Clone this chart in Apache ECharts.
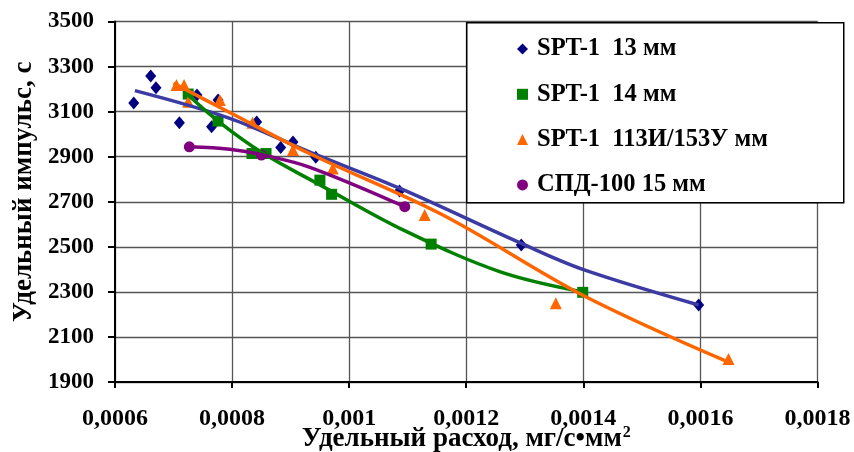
<!DOCTYPE html>
<html><head><meta charset="utf-8">
<script src="https://cdn.jsdelivr.net/npm/echarts@6/dist/echarts.min.js"></script>
<style>html,body{margin:0;padding:0;background:#fff}#c{width:854px;height:452px}</style>
</head><body><div id="c"></div>
<script>
// Tick labels
const xTicks = [0.0006, 0.0008, 0.001, 0.0012, 0.0014, 0.0016, 0.0018];
const yTicks = [1900, 2100, 2300, 2500, 2700, 2900, 3100, 3300, 3500];

// Series names
const names = ['SPT-1  13 мм', 'SPT-1  14 мм', 'SPT-1  113И/153У мм', 'СПД-100 15 мм'];

// Series 1: SPT-1 13 мм (points)
const s1x = [0.000632, 0.000661, 0.000670, 0.000710, 0.000740, 0.000765, 0.000776, 0.000842, 0.000883, 0.000904, 0.000943, 0.001086, 0.001294, 0.001597];
const s1y = [3138, 3258, 3206, 3051, 3174, 3033, 3152, 3054, 2941, 2965, 2897, 2748, 2508, 2242];
// Series 2: SPT-1 14 мм
const s2x = [0.000725, 0.000776, 0.000834, 0.000858, 0.000950, 0.000970, 0.001140, 0.001399];
const s2y = [3178, 3058, 2914, 2914, 2796, 2733, 2512, 2298];
// Series 3: SPT-1 113И/153У мм
const s3x = [0.000705, 0.000718, 0.000725, 0.000779, 0.000835, 0.000904, 0.000972, 0.001129, 0.001353, 0.001648];
const s3y = [3218, 3218, 3144, 3152, 3051, 2930, 2848, 2641, 2249, 2002];
// Series 4: СПД-100 15 мм
const s4x = [0.000727, 0.000850, 0.001095];
const s4y = [2944, 2907, 2678];

// Trend lines
const t1x = [0.000634, 0.000796, 0.000933, 0.001086, 0.001294, 0.001399, 0.001597];
const t1y = [3193, 3070, 2920, 2760, 2515, 2400, 2242];
const t2x = [0.000719, 0.000776, 0.000853, 0.000950, 0.001092, 0.001257, 0.001399];
const t2y = [3188, 3058, 2915, 2775, 2575, 2390, 2300];
const t3x = [0.000700, 0.000796, 0.000933, 0.001160, 0.001399, 0.001646];
const t3y = [3226, 3096, 2913, 2641, 2285, 1990];
const t4x = [0.000727, 0.000796, 0.000852, 0.000933, 0.001095];
const t4y = [2944, 2933, 2908, 2853, 2678];

const colors = ['#000080', '#008000', '#FF6600', '#800080'];
const lineColors = ['#3b3ba3', '#008000', '#FF6600', '#800080'];
const symbols = ['diamond', 'rect', 'triangle', 'circle'];
const sizes = [[11, 13], 11, 12, 11];

const zip = (a, b) => a.map((v, i) => [v, b[i]]);
const pts = [zip(s1x, s1y), zip(s2x, s2y), zip(s3x, s3y), zip(s4x, s4y)];
const trends = [zip(t1x, t1y), zip(t2x, t2y), zip(t3x, t3y), zip(t4x, t4y)];

const FONT = 'Liberation Serif';
const chart = echarts.init(document.getElementById('c'), null, {renderer: 'canvas'});
const series = [];
trends.forEach((d, i) => series.push({
  type: 'line', data: d, smooth: 0.35, showSymbol: false, silent: true,
  lineStyle: {color: lineColors[i], width: 3.5}, z: 3
}));
pts.forEach((d, i) => series.push({
  name: names[i], type: 'scatter', data: d, symbol: symbols[i], symbolSize: sizes[i],
  itemStyle: {color: colors[i], opacity: 1}, z: 2
}));

chart.setOption({
  animation: false,
  backgroundColor: '#fff',
  grid: {left: 115, right: 36.5, top: 21.5, bottom: 70, containLabel: false, outerBoundsMode: 'none'},
  xAxis: {
    type: 'value', min: xTicks[0], max: xTicks[xTicks.length - 1], interval: 0.0002,
    axisLine: {lineStyle: {color: '#000', width: 2}},
    axisTick: {show: true, length: 6, lineStyle: {color: '#000', width: 2}},
    splitLine: {show: true, lineStyle: {color: '#555', width: 1.3}},
    axisLabel: {margin: 25, color: '#000', fontFamily: FONT, fontWeight: 'bold', fontSize: 24,
      formatter: v => String(+v.toFixed(4)).replace('.', ',')},
    name: '{a|Удельный расход, мг/с•мм}{s|2}', nameLocation: 'middle', nameGap: 43, nameMoveOverlap: false,
    nameTextStyle: {rich: {
      a: {fontFamily: FONT, fontWeight: 'bold', fontSize: 27, color: '#000', verticalAlign: 'bottom', lineHeight: 28},
      s: {fontFamily: FONT, fontWeight: 'bold', fontSize: 16, color: '#000', verticalAlign: 'top', padding: [0, 0, 14, 1], lineHeight: 28}
    }}
  },
  yAxis: {
    type: 'value', min: yTicks[0], max: yTicks[yTicks.length - 1], interval: 100,
    axisLine: {show: true, lineStyle: {color: '#000', width: 2}},
    axisTick: {show: true, length: 7, lineStyle: {color: '#000', width: 2}, customValues: yTicks},
    splitLine: {show: true, lineStyle: {color: '#555', width: 1.3}},
    axisLabel: {margin: 21, color: '#000', fontFamily: FONT, fontWeight: 'bold', fontSize: 23, customValues: yTicks,
      formatter: v => String(v)},
    name: 'Удельный импульс, с', nameLocation: 'middle', nameGap: 77, nameRotate: 90, nameMoveOverlap: false,
    nameTextStyle: {fontFamily: FONT, fontWeight: 'bold', fontSize: 27, color: '#000', padding: [0, 0, 0, 20]}
  },
  legend: {
    data: names, orient: 'vertical', left: 517, top: 36.5, padding: 0, itemGap: 20.3,
    itemWidth: 11, itemHeight: 11, z: 10,
    textStyle: {fontFamily: FONT, fontWeight: 'bold', fontSize: 24.5, color: '#000', lineHeight: 24, padding: [0, 0, 0, 4]}
  },
  graphic: [{
    type: 'rect', left: 466, top: 22, z: 9,
    shape: {width: 377, height: 180},
    style: {fill: '#fff', stroke: '#000', lineWidth: 1.5}
  }],
  series: series
});
</script></body></html>
